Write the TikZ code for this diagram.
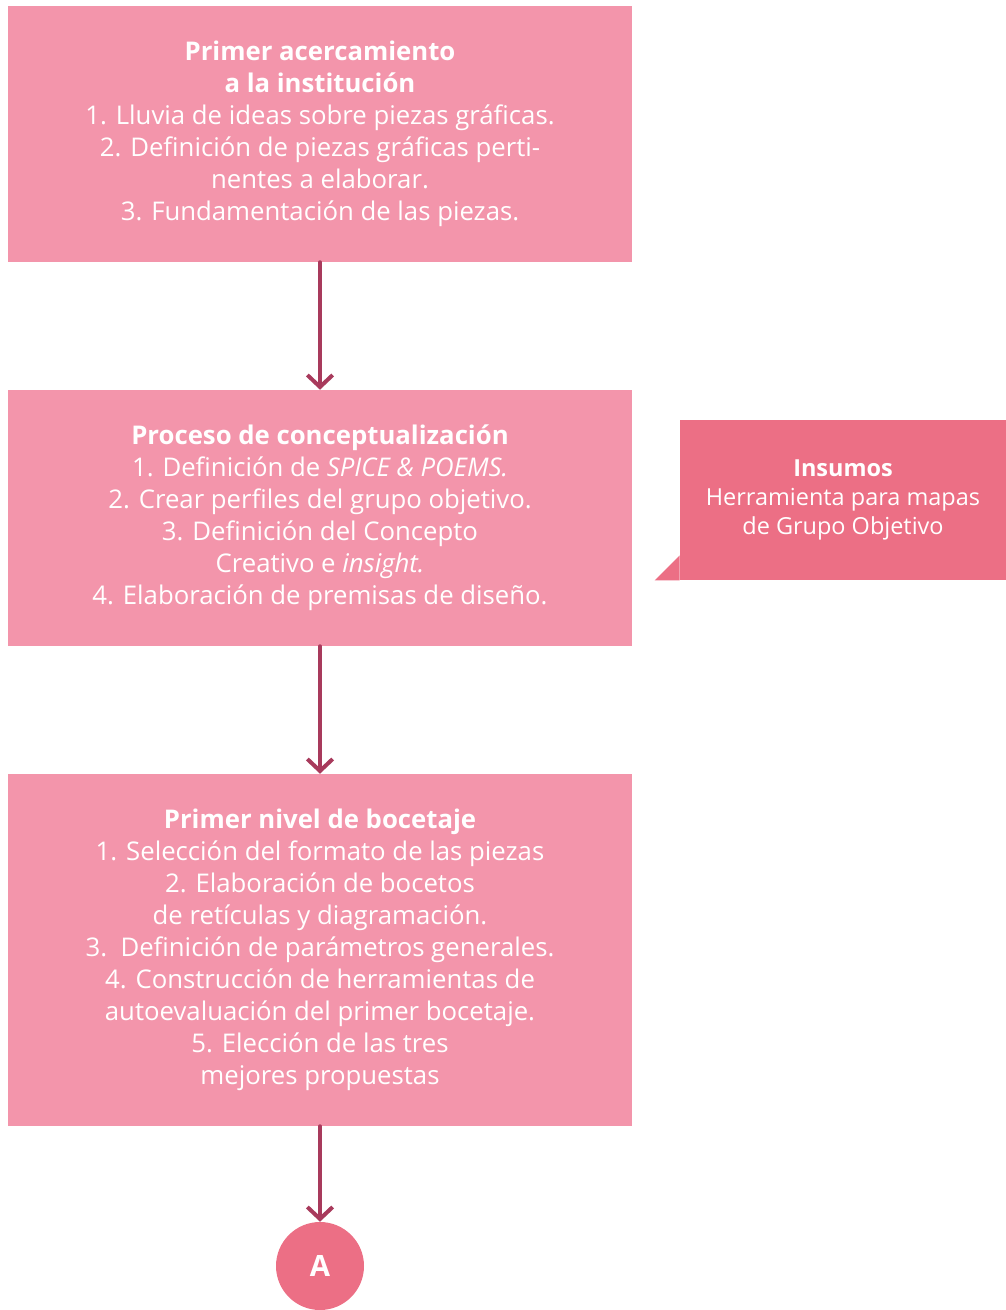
\documentclass[tikz,border=0pt]{standalone}
\usepackage{fontspec}
\setmainfont{Open Sans}
\usetikzlibrary{arrows.meta}
\definecolor{boxpink}{HTML}{F395AB}
\definecolor{darkpink}{HTML}{EC6F85}
\definecolor{arrowcol}{HTML}{A83A5C}
\tikzset{
  stepbox/.style={fill=boxpink, text=white, minimum width=468pt, align=center, inner sep=0pt,
    font=\fontsize{19.3}{24}\selectfont},
  insbox/.style={fill=darkpink, text=white, minimum width=244.5pt, minimum height=120pt, align=center, inner sep=0pt,
    font=\fontsize{17.6}{21.75}\selectfont},
  flow/.style={draw=arrowcol, line width=3pt, -{Straight Barb[length=9pt,width=19pt,line width=3pt]}, line join=round, line cap=round},
}
\begin{document}
\begin{tikzpicture}[x=0.75pt,y=-0.75pt]
\useasboundingbox (0,0) rectangle (1006,1310);
\node[stepbox, minimum height=192pt] (b1) at (320,134) {\textbf{Primer acercamiento}\\\textbf{a la institución}\\1. Lluvia de ideas sobre piezas gráficas.\\2. Definición de piezas gráficas perti-\\nentes a elaborar.\\3. Fundamentación de las piezas.};
\node[stepbox, minimum height=192pt] (b2) at (320,518) {\textbf{Proceso de conceptualización}\\1. Definición de \textit{SPICE \& POEMS.}\\2. Crear perfiles del grupo objetivo.\\3. Definición del Concepto\\Creativo e \textit{insight.}\\4. Elaboración de premisas de diseño.};
\node[stepbox, minimum height=264pt] (b3) at (320,950) {\textbf{Primer nivel de bocetaje}\\1. Selección del formato de las piezas\\2. Elaboración de bocetos\\de retículas y diagramación.\\3.\ \ Definición de parámetros generales.\\4. Construcción de herramientas de\\autoevaluación del primer bocetaje.\\5. Elección de las tres\\mejores propuestas};
\node[insbox] (ins) at (843,500) {\textbf{Insumos}\\Herramienta para mapas\\de Grupo Objetivo};
\fill[darkpink] (ins.south west) -- ++(0,-25) -- ++(-25,25) -- cycle;
\node[circle, fill=darkpink, text=white, minimum size=66pt, inner sep=0pt, font=\fontsize{22}{24}\selectfont\bfseries] (a) at (320,1266) {A};
\draw[flow] (b1.south) -- (b2.north);
\draw[flow] (b2.south) -- (b3.north);
\draw[flow] (b3.south) -- (a.north);
\end{tikzpicture}
\end{document}
